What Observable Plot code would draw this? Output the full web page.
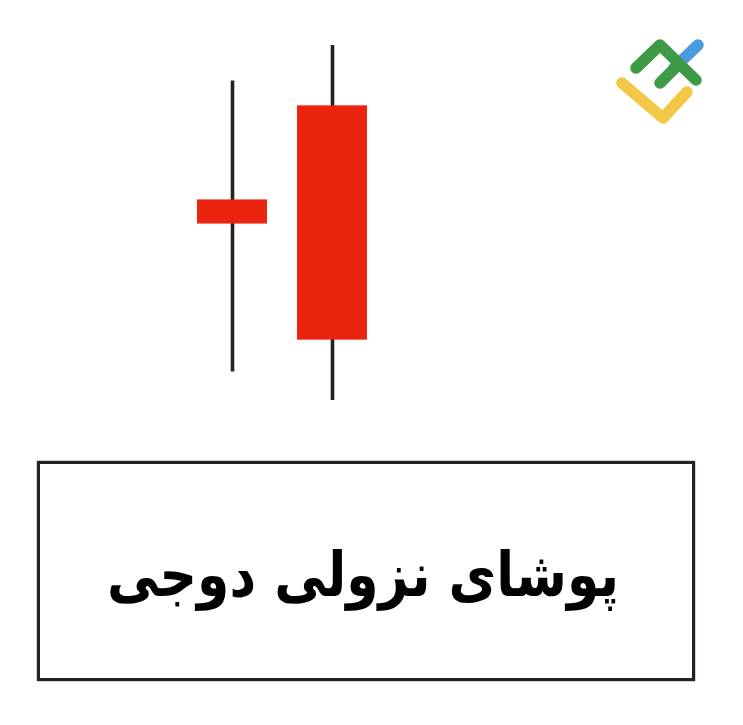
<!DOCTYPE html>
<html>
<head>
<meta charset="utf-8">
<script src="https://cdn.jsdelivr.net/npm/d3@7"></script>
<script src="https://cdn.jsdelivr.net/npm/@observablehq/plot@0.6"></script>
<style>
  html, body { margin: 0; padding: 0; background: #fff; }
  #wrap { position: relative; width: 743px; height: 725px; overflow: hidden; }
  #chart { position: absolute; left: 0; top: 0; }
  #logo { position: absolute; left: 600px; top: 20px; }
  #caption {
    position: absolute; left: 37px; top: 461px; width: 652px; height: 214px;
    border: 3.5px solid #232323; box-shadow: 0 0 1.5px #555;
    display: flex; align-items: center; justify-content: center;
    font-family: "DejaVu Sans", sans-serif; font-weight: bold; font-size: 52px;
    color: #000; direction: rtl;
  }
  #caption span { display: inline-block; transform: translate(-3px, 4px) scaleY(1.18); }
</style>
</head>
<body>
<div id="wrap">
  <div id="chart"></div>
  <svg id="logo" width="120" height="120" viewBox="0 0 120 120">
    <g fill="none" stroke-linecap="round" stroke-linejoin="round" stroke-width="11.5">
      <polyline points="74,48 98,25" stroke="#4b9be2"/>
      <polyline points="22,63 63,98 87,72" stroke="#f3c846"/>
      <polyline points="36,48 60,25 96,60" stroke="#3f9a48"/>
      <polyline points="60,63 75,48" stroke="#3f9a48"/>
    </g>
  </svg>
  <div id="caption"><span>پوشای نزولی دوجی</span></div>
</div>
<script>
// Candles (bearish doji pattern)
const candleIds = ["1", "2"];
const opens  = [56.5, 83];
const closes = [49.7, 17];
const highs  = [90, 100];
const lows   = [8, 0];

const candles = candleIds.map((id, i) => ({
  id, open: opens[i], close: closes[i], high: highs[i], low: lows[i]
}));

const chart = Plot.plot({
  width: 743,
  height: 440,
  marginTop: 45,
  marginBottom: 40,
  marginLeft: 0,
  marginRight: 0,
  x: { type: "band", domain: candleIds, range: [197, 367], paddingInner: 0.3, paddingOuter: 0, axis: null },
  y: { domain: [0, 100], axis: null },
  marks: [
    Plot.ruleX(candles, { x: "id", y1: "low", y2: "high", stroke: "#232323", strokeWidth: 3.6 }),
    Plot.barY(candles, { x: "id", y1: "open", y2: "close", fill: "#eb2410" })
  ]
});
document.getElementById("chart").appendChild(chart);
</script>
</body>
</html>
